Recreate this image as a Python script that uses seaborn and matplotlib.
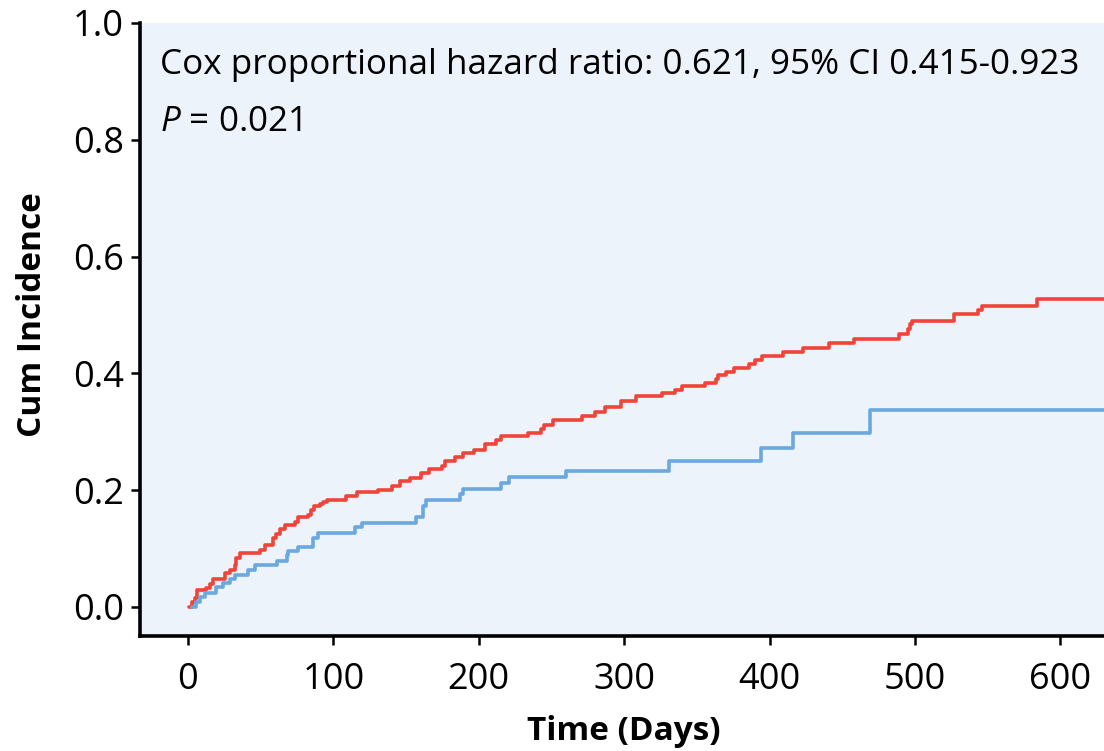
import numpy as np
import pandas as pd
import matplotlib
matplotlib.use("Agg")
import matplotlib.pyplot as plt
import seaborn as sns

# ---- data ----
red_days = [1, 2.5, 4.8, 5.9, 12.6, 15.3, 17.2, 25.2, 28.6, 32, 33.2, 35.5, 49.3, 52.7,
            58.4, 60.7, 63.5, 66.4, 73.3, 75.6, 82.5, 84.8, 87, 90.5, 92.6, 95.3, 109,
            116, 130.8, 140, 145.7, 152.6, 160.6, 166, 175, 177, 183.5, 189, 197, 204,
            211.7, 215.6, 234, 243, 245, 251, 271, 280, 287, 297.6, 308, 326, 334.7,
            340, 355.8, 363, 364.5, 370, 375.5, 385.8, 389.7, 395, 409, 423, 441, 458,
            489, 495, 496.7, 498, 527, 543, 546, 584, 630]
red_vals = [0.0, 0.009, 0.015, 0.029, 0.033, 0.039, 0.048, 0.058, 0.063, 0.072, 0.083,
            0.092, 0.098, 0.106, 0.118, 0.125, 0.133, 0.140, 0.146, 0.154, 0.158, 0.166,
            0.172, 0.176, 0.180, 0.183, 0.190, 0.196, 0.200, 0.207, 0.215, 0.220, 0.229,
            0.236, 0.242, 0.249, 0.256, 0.263, 0.269, 0.279, 0.286, 0.293, 0.297, 0.304,
            0.312, 0.320, 0.327, 0.333, 0.342, 0.353, 0.361, 0.366, 0.372, 0.378, 0.384,
            0.390, 0.397, 0.402, 0.409, 0.416, 0.423, 0.430, 0.437, 0.443, 0.452, 0.458,
            0.467, 0.476, 0.484, 0.490, 0.502, 0.509, 0.516, 0.527, 0.527]

blue_days = [3, 5.5, 8.2, 11.7, 19.2, 23.8, 28.9, 32.3, 41.5, 46, 61, 67.8, 69, 75.8, 86,
             89.6, 115, 120, 157, 161.6, 163.6, 187, 189, 215.6, 221, 260, 331, 394, 416,
             469.4, 630]
blue_vals = [0.0, 0.009, 0.017, 0.024, 0.034, 0.041, 0.048, 0.055, 0.063, 0.072, 0.079,
             0.089, 0.096, 0.103, 0.118, 0.126, 0.137, 0.144, 0.154, 0.173, 0.183, 0.193,
             0.202, 0.212, 0.222, 0.233, 0.250, 0.272, 0.297, 0.337, 0.337]

group_names = ["red", "blue"]
x_ticks = [0, 100, 200, 300, 400, 500, 600]
y_ticks = [0.0, 0.2, 0.4, 0.6, 0.8, 1.0]
annot_line1 = "Cox proportional hazard ratio: 0.621, 95% CI 0.415-0.923"
annot_line2 = r"$\mathit{P}$ = 0.021"

df = pd.concat([
    pd.DataFrame({"Time": red_days, "Cum": red_vals, "Group": group_names[0]}),
    pd.DataFrame({"Time": blue_days, "Cum": blue_vals, "Group": group_names[1]}),
], ignore_index=True)

sns.set_theme(style="white")
plt.rcParams["font.family"] = ["Open Sans", "DejaVu Sans"]
plt.rcParams["mathtext.fontset"] = "custom"
plt.rcParams["mathtext.it"] = "Open Sans:italic"
plt.rcParams["mathtext.rm"] = "Open Sans"
plt.rcParams["text.color"] = "black"
plt.rcParams["axes.labelcolor"] = "black"

fig = plt.figure(figsize=(11.04, 7.51), dpi=100)
ax = fig.add_axes([140 / 1104, 115 / 751, 964 / 1104, 613 / 751])
ax.set_facecolor("#ECF3FB")

palette = {"red": "#F04439", "blue": "#6AA8DD"}
sns.lineplot(data=df, x="Time", y="Cum", hue="Group", palette=palette,
             drawstyle="steps-post", estimator=None, linewidth=2.6,
             legend=False, ax=ax, zorder=3)

ax.set_xlim(-33, 630)
ax.set_ylim(-0.05, 1.0)
ax.set_xticks(x_ticks)
ax.set_xticklabels([str(v) for v in x_ticks])
ax.set_yticks(y_ticks)
ax.set_yticklabels([f"{v:.1f}" for v in y_ticks])

for s in ["top", "right"]:
    ax.spines[s].set_visible(False)
for s in ["left", "bottom"]:
    ax.spines[s].set_color("black")
    ax.spines[s].set_linewidth(2.6)

ax.tick_params(axis="both", which="major", direction="out", length=6.5, width=1.8,
               color="black", labelsize=26, labelcolor="black",
               left=True, bottom=True)
ax.tick_params(axis="y", pad=5)
ax.tick_params(axis="x", pad=12)

label_font = dict(family=["Open Sans", "DejaVu Sans"], weight="bold", size=24,
                  color="black")
ax.set_xlabel("Time (Days)", fontdict=label_font)
ax.set_ylabel("Cum Incidence", fontdict=label_font)
ax.xaxis.set_label_coords(0.502, -0.1697)
ax.xaxis.label.set_va("baseline")
ax.yaxis.set_label_coords(-0.094, 0.524)

ax.text(0.0207, 0.931, annot_line1, transform=ax.transAxes, fontsize=25.2,
        ha="left", va="center", color="black")
ax.text(0.0207, 0.8385, annot_line2, transform=ax.transAxes, fontsize=25.2,
        ha="left", va="center", color="black")

fig.savefig("out.png", dpi=100)
